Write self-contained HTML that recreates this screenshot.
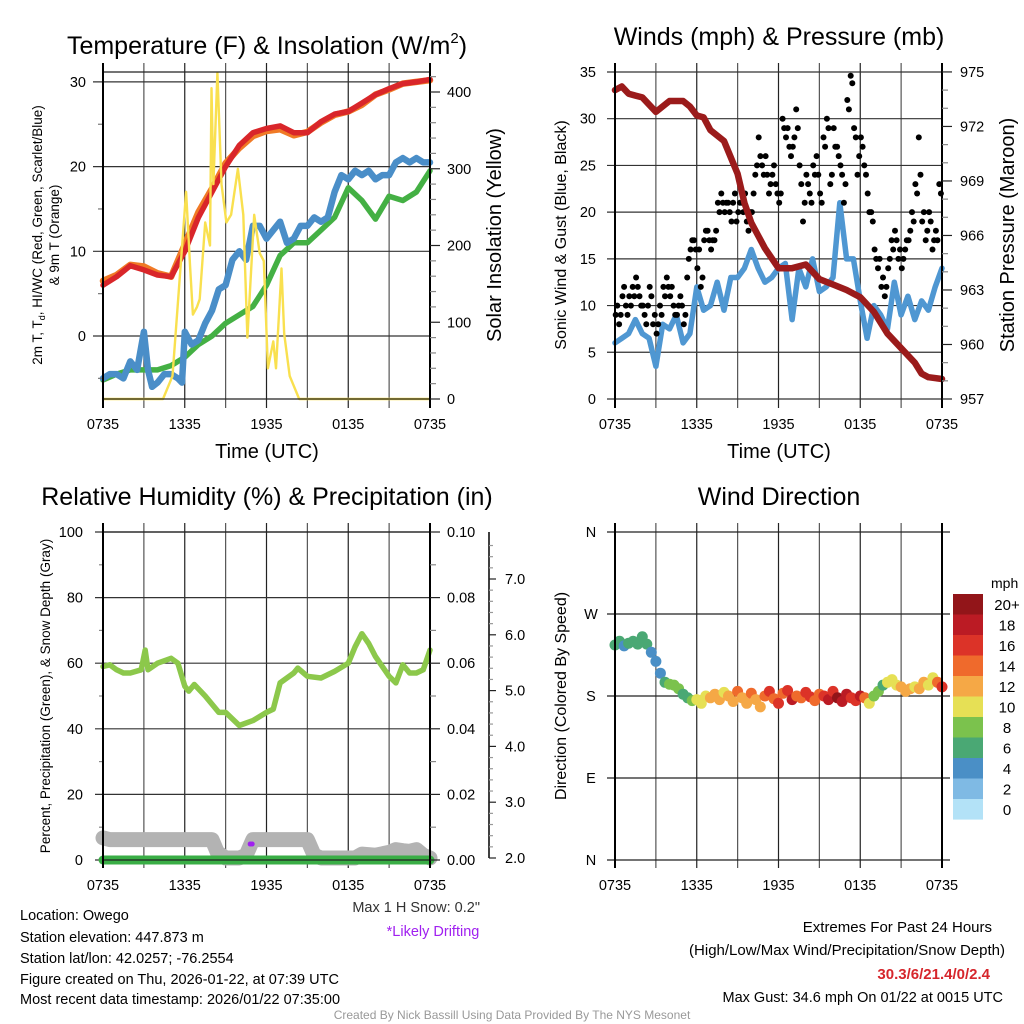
<!DOCTYPE html>
<html><head><meta charset="utf-8">
<style>
html,body{margin:0;padding:0;background:#fff;}
svg{display:block;font-family:"Liberation Sans",sans-serif;}
</style></head>
<body>
<svg id="fig" width="1024" height="1024" viewBox="0 0 1024 1024" xmlns="http://www.w3.org/2000/svg">
<rect width="1024" height="1024" fill="#fff"/>
<g id="grids"></g>
<g id="marks"></g>
<g id="axes"></g>
<text x="267" y="54" font-size="25" text-anchor="middle">Temperature (F) &amp; Insolation (W/m<tspan font-size="15" dy="-11">2</tspan><tspan dy="11">)</tspan></text>
<text x="779" y="45" font-size="25" text-anchor="middle">Winds (mph) &amp; Pressure (mb)</text>
<text x="267" y="505" font-size="25" text-anchor="middle">Relative Humidity (%) &amp; Precipitation (in)</text>
<text x="779" y="505" font-size="25" text-anchor="middle">Wind Direction</text>
<text x="267" y="458" font-size="20" text-anchor="middle">Time (UTC)</text>
<text x="779" y="458" font-size="20" text-anchor="middle">Time (UTC)</text>
<text transform="translate(42,235) rotate(-90)" font-size="13.5" text-anchor="middle">2m T, T<tspan font-size="9" dy="3">d</tspan><tspan dy="-3">, HI/WC (Red, Green, Scarlet/Blue)</tspan></text>
<text transform="translate(59,235) rotate(-90)" font-size="13.5" text-anchor="middle">&amp; 9m T (Orange)</text>
<text transform="translate(501,235) rotate(-90)" font-size="20" text-anchor="middle">Solar Insolation (Yellow)</text>
<text transform="translate(566,235) rotate(-90)" font-size="16" text-anchor="middle">Sonic Wind &amp; Gust (Blue, Black)</text>
<text transform="translate(1014,235) rotate(-90)" font-size="20" text-anchor="middle">Station Pressure (Maroon)</text>
<text transform="translate(50,696) rotate(-90)" font-size="13.5" text-anchor="middle">Percent, Precipitation (Green), &amp; Snow Depth (Gray)</text>
<text transform="translate(566,696) rotate(-90)" font-size="16" text-anchor="middle">Direction (Colored By Speed)</text>
<text x="991" y="588" font-size="14">mph</text>
<g font-size="14.5">
<text x="20" y="920">Location: Owego</text>
<text x="20" y="942">Station elevation: 447.873 m</text>
<text x="20" y="963">Station lat/lon: 42.0257; -76.2554</text>
<text x="20" y="984">Figure created on Thu, 2026-01-22, at 07:39 UTC</text>
<text x="20" y="1004">Most recent data timestamp: 2026/01/22 07:35:00</text>
</g>
<text x="480" y="912" font-size="14.5" text-anchor="end" fill="#333">Max 1 H Snow: 0.2"</text>
<text x="433" y="936" font-size="14.5" text-anchor="middle" fill="#a020f0">*Likely Drifting</text>
<text x="992" y="932" font-size="15" text-anchor="end">Extremes For Past 24 Hours</text>
<text x="1005" y="955" font-size="15" text-anchor="end">(High/Low/Max Wind/Precipitation/Snow Depth)</text>
<text x="990" y="979" font-size="15" font-weight="bold" text-anchor="end" fill="#d6262c">30.3/6/21.4/0/2.4</text>
<text x="1003" y="1002" font-size="14.5" text-anchor="end">Max Gust: 34.6 mph On 01/22 at 0015 UTC</text>
<text x="512" y="1019" font-size="12" text-anchor="middle" fill="#999">Created By Nick Bassill Using Data Provided By The NYS Mesonet</text>
</svg>
<script>
const tickHours=[0,6,12,18,24];
const tickLabels=["0735","1335","1935","0135","0735"];
const hourly=[0,1,2,3,4,5,6,7,8,9,10,11,12,13,14,15,16,17,18,19,20,21,22,23,24];
const tempRed=[6,7,8.3,7.8,7.2,7,10,14,17,20,22.5,24,24.5,24.8,24,24,25.3,26.2,26.5,27.5,28.5,29.2,29.8,30,30.3];
const tempOrange=[6.5,7.2,8.4,8.2,7.4,7,10.8,14.6,17.4,20.4,22.2,23.6,24.2,24.4,23.7,24.1,25.2,26.1,26.5,27.3,28.5,29.1,29.8,30,30.2];
const dewGreen=[-5.2,-4.5,-4,-4,-4,-3.5,-2.5,-1,0,1.5,2.5,3.5,6,9.5,11,11,12.5,14,17.5,16,13.8,16.5,16,17,19.5];
const wcHours=[0,0.5,1,1.5,2,2.5,3,3.3,3.6,4,4.5,5,5.5,5.8,6,6.5,7,7.5,8,8.5,9,9.5,10,10.5,11,11.5,12,12.5,13,13.5,14,14.5,15,15.5,16,16.5,17,17.5,18,18.5,19,19.5,20,20.5,21,21.5,22,22.5,23,23.5,24];
const wcBlue=[-5,-4.5,-4.5,-5,-3,-4,0.5,-4,-6,-5.5,-4.5,-4.5,-5,-5.5,0.5,-1,-0.5,1.5,3,5.5,6,9,10,9,13,13,11.5,12.5,13.5,11,11.5,13,13,14,13.5,14,17,19,18.5,19.5,19,19.5,18.5,19,19,20.5,21,20.5,21,20.5,20.5];
const solarHours=[0,4.4,5.1,5.6,6.1,6.4,6.6,6.9,7.1,7.5,7.85,7.96,8.1,8.4,8.7,9.06,9.4,9.9,10.3,10.6,11.1,11.5,11.8,12.1,12.5,12.7,13.1,13.3,13.7,14.4,24];
const solarVals=[0,0,30,150,270,170,110,120,130,230,200,405,280,425,280,230,240,300,240,80,240,190,180,40,75,40,170,85,30,0,0];
const windHours=[0,0.5,1,1.5,2,2.5,3,3.5,4,4.5,5,5.5,6,6.5,7,7.5,8,8.5,9,9.5,10,10.5,11,11.5,12,12.5,13,13.5,14,14.5,15,15.5,16,16.5,17,17.5,18,18.5,19,19.5,20,20.5,21,21.5,22,22.5,23,23.5,24];
const windSpeed=[6,6.5,7,8.5,7,6.5,3.5,8,7.5,9,6,7,12,9.5,10,12.5,9.5,13,13,14,16,14,12.5,13,14,14.5,8.5,14,12,15,11.5,12,13,21,15,15,10.5,6.5,10,9,7.5,12.5,9,11,8.5,10.5,9.5,12,14];
const gusts=[9,8,11,10,11,12,13,11,10,8,12,8,7,10,12,13,11,10,9,11,8,13,16,17,14,12,17,18,16,17,21,22,20,21,19,22,20,21,22,18,20,24,28,25,26,22,24,23,21,30,28,27,27,31,25,19,24,22,25,26,22,28,30,23,29,27,25,21,32,34.6,29,24,28,25,22,20,16,14,12,11,14,17,18,15,14,16,17,20,23,28,19,17,20,16,18,23];
const gusts2=[10,9,12,9,10,11,12,10,9,10,11,9,8,9,11,12,12,9,10,10,9,15,17,16,16,13,18,17,17,18,20,21,21,20,21,19,21,20,19,20,22,25,26,24,24,23,25,22,22,29,29,26,28,29,23,21,23,21,24,24,21,27,29,24,27,26,24,23,31,33.8,28,26,27,24,20,19,15,15,13,12,15,16,17,16,15,17,18,19,22,24,20,18,19,17,17,22];
const presHours=[0,0.5,1,1.5,2,3,4,5,5.5,6,6.5,7,8,9,9.5,10,10.5,11,12,13,14,15,16,17,18,19,20,21,22,22.5,23,24];
const pressure=[974,974.2,973.8,973.7,973.6,972.8,973.4,973.4,973.1,972.6,972.5,971.8,971.2,969.4,967.8,966.7,966,965.3,964.2,964.2,964.4,963.6,963.3,963,962.6,961.8,960.6,959.8,959,958.4,958.2,958.1];
const rhHours=[0,0.5,1,1.5,2,2.8,3.1,3.3,4,5,5.5,6,6.3,6.7,7.5,8.5,9,10,11,12,12.5,13,14,14.3,15,16,17,18,18.5,19,19.5,20,21,21.5,22,22.5,23,23.5,24];
const rh=[59,59.5,58,57,57,58,64,58,60,61.5,60,53,51.5,53.5,50,45,45,41,42.5,45,46,54,57,58.5,56,55.5,57.5,60,65,69,66,62,56,54,59.5,57,57,58,64];
const precipHours=[0,24];
const precip=[0,0];
const snowHours=[0,0.5,8,8.4,9,10,10.5,11,12,15,15.5,16,18.5,19,20,21,21.5,22,22.5,23,23.5,24];
const snowDepth=[2.36,2.33,2.33,2.1,2.0,2.0,2.05,2.33,2.33,2.33,2.05,2.0,2.0,2.07,2.05,2.1,2.15,2.13,2.12,2.15,2.05,2.0];
const driftHours=[10.8,10.95];
const driftVals=[2.25,2.25];
const dirDeg=[236,240,235,238,240,237,245,237,228,218,205,195,193,192,188,182,178,175,176,172,180,
178,182,176,184,180,174,185,178,172,183,176,168,180,185,177,172,183,186,176,180,178,184,179,175,182,180,176,185,178,174,182,178,175,180,178,172,
180,185,192,195,198,192,190,185,188,190,188,195,192,200,195,190];
const dirSpeed=[6,6,5,6,7,6,7,6,5,4,5,6,8,8,8,7,6,9,10,10,11,12,13,12,11,12,13,14,13,12,14,12,13,15,16,14,17,15,16,18,15,14,16,17,15,14,16,18,17,20,19,18,17,16,18,14,10,
9,8,7,10,11,10,12,13,12,11,13,12,10,11,14,17];
const cbLabels=["20+","18","16","14","12","10","8","6","4","2","0"];
const cbColors=["#921519","#bb1b24","#dc3328","#ef6a2c","#f5a846","#e6e055","#7bc24d","#4aa874","#4a8fc6","#7fbae4","#b3e2f7"];

const NS="http://www.w3.org/2000/svg";
const G=document.getElementById('grids'),M=document.getElementById('marks'),A=document.getElementById('axes');
function mk(tag,parent,attrs){const e=document.createElementNS(NS,tag);for(const k in attrs)e.setAttribute(k,attrs[k]);parent.appendChild(e);return e;}
function line(p,x1,y1,x2,y2,name,col,w){const e=mk('line',p,{x1:x1,y1:y1,x2:x2,y2:y2,stroke:col||'#222','stroke-width':w||1.2});

return e;}
function txt(p,x,y,s,name,anchor,size){const e=mk('text',p,{x:x,y:y,'font-size':size||14.5,'text-anchor':anchor||'middle'});e.textContent=s;

return e;}
function path(p,xs,ys,fx,fy,name,col,w){let d='';for(let i=0;i<xs.length;i++)d+=(i?'L':'M')+fx(xs[i]).toFixed(1)+','+fy(ys[i]).toFixed(1);
const e=mk('path',p,{d:d,fill:'none',stroke:col,'stroke-width':w,'stroke-linejoin':'round','stroke-linecap':'round'});

return e;}

const xL=h=>103+h*327/24, xR=h=>615+h*327/24;
const yTemp=v=>336-v*8.47, ySolar=v=>399-v*0.7675;
const yWind=v=>399-v*9.343, yPres=v=>399-(v-957)*18.17;
const yRH=v=>860-v*3.28, yPrecip=v=>860-v*3280, ySnow=v=>858-(v-2)*55.8;
const yDir=v=>860-v*328/360;

// panel 1
for(let h=0;h<=24;h+=3)line(G,xL(h),63,xL(h),408,'temp-vgrid',h%6?'#555':'#222');
[0,10,20,30].forEach(v=>{line(G,93,yTemp(v),430,yTemp(v),'temp-hgrid','#333');txt(A,86,yTemp(v)+5,String(v),'temp-y-tick-label','end');});
[-5,5,15,25].forEach(v=>line(A,98,yTemp(v),103,yTemp(v),'temp-minor-tick','#777'));
line(A,103,72,430,72,'temp-top-border');line(A,103,399,430,399,'temp-bottom-border');
line(A,103,63,103,408,'temp-left-axis','#000',2);line(A,430,63,430,408,'temp-right-axis','#000',2);
[0,100,200,300,400].forEach(v=>{line(A,430,ySolar(v),440,ySolar(v),'solar-tick');txt(A,447,ySolar(v)+5,String(v),'solar-tick-label','start');});
for(let v=20;v<=420;v+=20)if(v%100)line(A,430,ySolar(v),436,ySolar(v),'solar-minor-tick','#888');
tickHours.forEach((h,i)=>txt(A,xL(h),429,tickLabels[i],'temp-x-tick-label'));
path(M,hourly,tempOrange,xL,yTemp,'nine-m-temp-line','#f07a26',6.5);
path(M,hourly,tempRed,xL,yTemp,'two-m-temp-line','#d9262a',5.5);
path(M,hourly,dewGreen,xL,yTemp,'dewpoint-line','#44b044',5.5);
path(M,wcHours,wcBlue,xL,yTemp,'wind-chill-line','#4a8ec8',6.5);
path(M,solarHours,solarVals,xL,ySolar,'solar-insolation-line','#f9e04f',2.4);

// panel 2
for(let h=0;h<=24;h+=3)line(G,xR(h),63,xR(h),408,'wind-vgrid',h%6?'#555':'#222');
for(let v=0;v<=35;v+=5){line(G,607,yWind(v),942,yWind(v),'wind-hgrid','#333');txt(A,596,yWind(v)+5,String(v),'wind-y-tick-label','end');}
line(A,615,63,615,408,'wind-left-axis','#000',2);line(A,942,63,942,408,'wind-right-axis','#000',2);
for(let p=957;p<=975;p++){const maj=(p-957)%3===0;line(A,942,yPres(p),maj?952:948,yPres(p),'pressure-tick',maj?'#222':'#888');if(maj)txt(A,960,yPres(p)+5,String(p),'pressure-tick-label','start');}
tickHours.forEach((h,i)=>txt(A,xR(h),429,tickLabels[i],'wind-x-tick-label'));
path(M,windHours,windSpeed,xR,yWind,'sonic-wind-line','#4f97d2',5.5);
gusts.forEach((g,i)=>{const c=mk('circle',M,{cx:xR(i*0.25+0.05).toFixed(1),cy:yWind(g).toFixed(1),r:3,fill:'#000'});

});
gusts2.forEach((g,i)=>{const c=mk('circle',M,{cx:xR(i*0.25+0.17).toFixed(1),cy:yWind(g).toFixed(1),r:3,fill:'#000'});

});
path(M,presHours,pressure,xR,yPres,'station-pressure-line','#9b1b1b',6.5);

// panel 3
for(let h=0;h<=24;h+=3)line(G,xL(h),523,xL(h),868,'rh-vgrid',h%6?'#555':'#222');
for(let v=0;v<=100;v+=20){line(G,95,yRH(v),430,yRH(v),'rh-hgrid','#333');txt(A,83,yRH(v)+5,String(v),'rh-y-tick-label','end');}
for(let v=10;v<100;v+=20)line(A,99,yRH(v),103,yRH(v),'rh-minor-tick','#888');
line(A,103,532,430,532,'rh-top-border');line(A,103,860,430,860,'rh-bottom-border');
line(A,103,523,103,868,'rh-left-axis','#000',2);line(A,430,523,430,868,'rh-right-axis','#000',2);
for(let i=0;i<=10;i++){const v=i/100;line(A,430,yPrecip(v),i%2?436:440,yPrecip(v),'precip-tick',i%2?'#888':'#222');if(i%2===0)txt(A,447,yPrecip(v)+5,v.toFixed(2),'precip-tick-label','start');}
line(A,489,532,489,858,'snow-axis','#000',1.5);
for(let s=2;s<=7.8;s+=0.2){const maj=Math.abs(s-Math.round(s))<0.01;line(A,489,ySnow(s),maj?496:493,ySnow(s),'snow-tick',maj?'#222':'#999');if(maj)txt(A,505,ySnow(s)+5,Math.round(s).toFixed(1),'snow-tick-label','start');}
tickHours.forEach((h,i)=>txt(A,xL(h),890,tickLabels[i],'rh-x-tick-label'));
path(M,snowHours,snowDepth,xL,ySnow,'snow-depth-line','#b3b3b3',15);
path(M,precipHours,precip,xL,yPrecip,'precipitation-line','#3aae46',9);
path(M,rhHours,rh,xL,yRH,'relative-humidity-line','#8cc84b',5.5);
driftHours.forEach((h,i)=>{const c=mk('circle',M,{cx:xL(h),cy:ySnow(driftVals[i]),r:2.5,fill:'#a020f0'});

});

// panel 4
for(let h=0;h<=24;h+=3)line(G,xR(h),523,xR(h),868,'dir-vgrid',h%6?'#555':'#222');
const dirTicks=[0,90,180,270,360],dirLabels=["N","E","S","W","N"];
dirTicks.forEach((d,i)=>{line(G,607,yDir(d),950,yDir(d),'dir-hgrid','#222');txt(A,591,yDir(d)+5,dirLabels[i],'dir-y-tick-label');});
line(A,615,523,615,868,'dir-left-axis','#000',2);line(A,942,523,942,868,'dir-right-axis','#000',2);
tickHours.forEach((h,i)=>txt(A,xR(h),890,tickLabels[i],'dir-x-tick-label'));
function binColor(s){let b=Math.min(10,Math.max(0,Math.floor(s/2)));return cbColors[10-b];}
dirDeg.forEach((d,i)=>{const c=mk('circle',M,{cx:xR(i/3).toFixed(1),cy:yDir(d).toFixed(1),r:5.5,fill:binColor(dirSpeed[i])});

});
cbLabels.forEach((l,i)=>{const y=594+i*20.5;const r=mk('rect',A,{x:953,y:y,width:30,height:20.6,fill:cbColors[i]});


txt(A,1007,y+16,l,'colorbar-label','middle',15);});
</script>
</body></html>
